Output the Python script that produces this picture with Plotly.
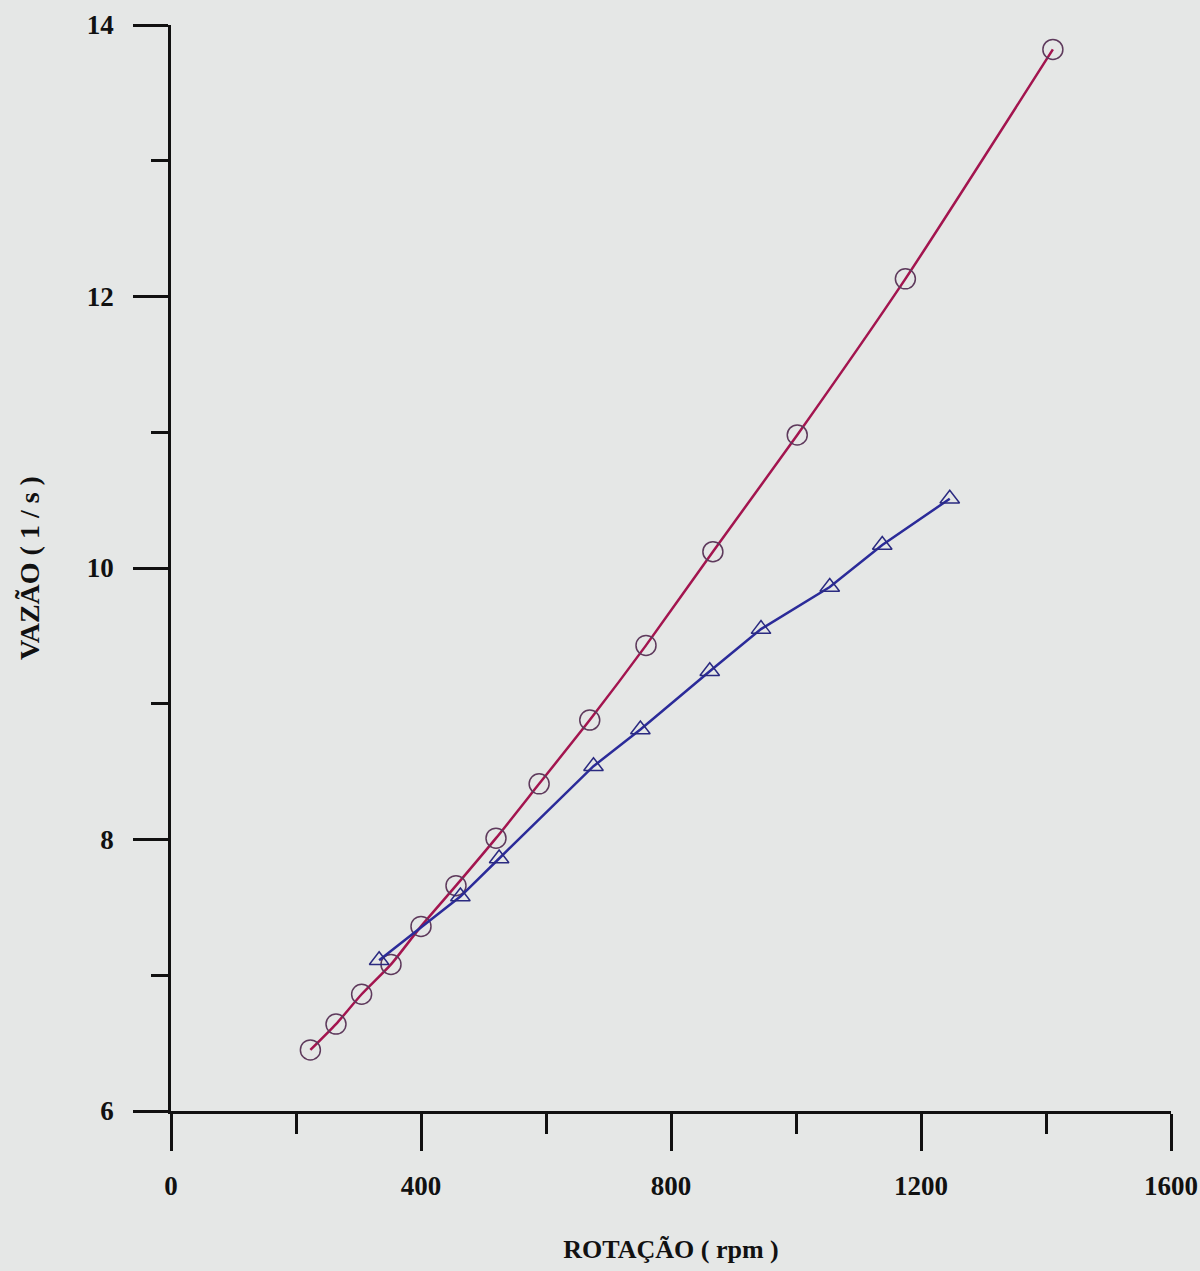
import plotly.graph_objects as go

# Series A (circles)
rot_a = [223, 264, 305, 352, 400, 456, 520, 589, 670, 760, 867, 1002, 1175, 1411]
vaz_a = [6.45, 6.64, 6.86, 7.08, 7.36, 7.66, 8.01, 8.41, 8.88, 9.43, 10.12, 10.98, 12.13, 13.82]

# Series B (triangles)
rot_b = [333, 463, 525, 676, 751, 862, 944, 1054, 1138, 1246]
vaz_b = [7.11, 7.58, 7.86, 8.54, 8.81, 9.24, 9.55, 9.86, 10.17, 10.51]

x_ticks = [0, 400, 800, 1200, 1600]
x_minor = [200, 600, 1000, 1400]
y_ticks = [6, 8, 10, 12, 14]
y_minor = [7, 9, 11, 13]

FONT = "Liberation Serif"
BG = "#e5e7e6"

fig = go.Figure()
fig.add_trace(go.Scatter(
    x=rot_a, y=vaz_a, mode="lines+markers",
    line=dict(color="#a3154f", width=2.5, shape="spline", smoothing=0.6),
    marker=dict(symbol="circle-open", size=20, color="#5e3a5c", line=dict(width=1.5, color="#5e3a5c")),
    showlegend=False,
))
fig.add_trace(go.Scatter(
    x=rot_b, y=vaz_b, mode="lines+markers",
    line=dict(color="#2b2b99", width=2.5),
    marker=dict(symbol="triangle-up-open", size=17, color="#2a2a80", line=dict(width=1.5, color="#2a2a80")),
    showlegend=False,
))

fig.update_layout(
    width=1200, height=1271, autosize=False,
    paper_bgcolor=BG, plot_bgcolor=BG,
    margin=dict(l=171, r=29, t=25, b=160),
    font=dict(family=FONT, color="#111111"),
)
fig.update_xaxes(
    automargin=False,
    range=[0, 1600], tickvals=x_ticks, ticktext=[str(v) for v in x_ticks],
    showgrid=False, zeroline=False,
    showline=True, linecolor="#111111", linewidth=2.5,
    ticks="outside", ticklen=37, tickwidth=2.5, tickcolor="#111111",
    minor=dict(tickvals=x_minor, ticks="outside", ticklen=20, tickwidth=2.5, tickcolor="#111111", showgrid=False),
    tickfont=dict(family=FONT, size=27, color="#111111", weight="bold"),
    ticklabelstandoff=12,
    title=dict(text="<b>ROTAÇÃO ( rpm )</b>", font=dict(family=FONT, size=26, color="#111111"), standoff=40),
)
fig.update_yaxes(
    automargin=False,
    range=[6, 14], tickvals=y_ticks, ticktext=[str(v) for v in y_ticks],
    showgrid=False, zeroline=False,
    showline=True, linecolor="#111111", linewidth=2.5,
    ticks="outside", ticklen=35, tickwidth=2.5, tickcolor="#111111",
    minor=dict(tickvals=y_minor, ticks="outside", ticklen=17, tickwidth=2.5, tickcolor="#111111", showgrid=False),
    tickfont=dict(family=FONT, size=27, color="#111111", weight="bold"),
    ticklabelstandoff=14,
    title=dict(text="<b>VAZÃO ( 1 / s )</b>", font=dict(family=FONT, size=28, color="#111111"), standoff=40),
)

fig.write_html(
    "out.html",
    config={"displayModeBar": False, "responsive": False},
    post_script=(
        "document.documentElement.style.overflow='hidden';"
        "document.body.style.overflow='hidden';"
        "document.body.style.margin='0';"
        "document.body.style.background='%s';" % BG
    ),
)
